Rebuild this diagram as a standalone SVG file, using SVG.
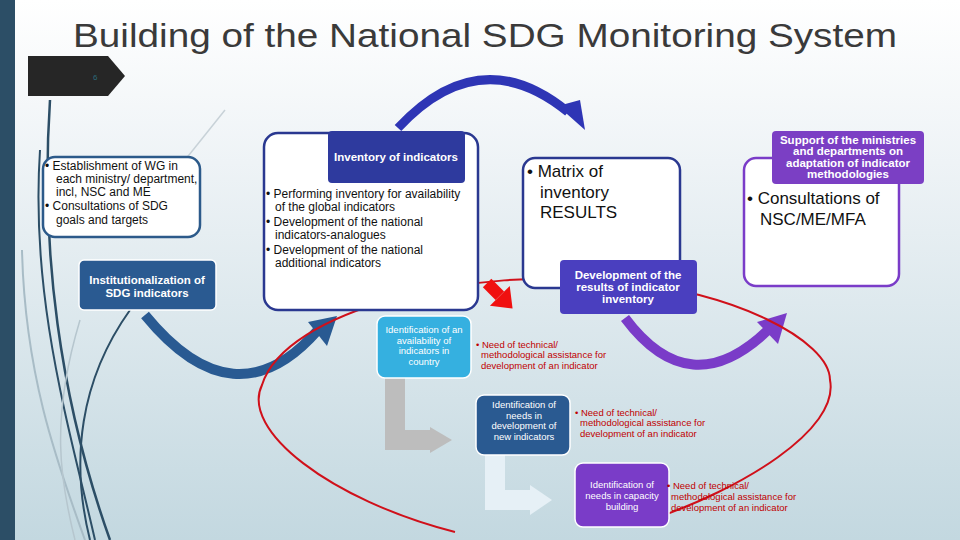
<svg xmlns="http://www.w3.org/2000/svg" width="960" height="540" viewBox="0 0 960 540">
<defs>
<linearGradient id="bg" x1="0" y1="0" x2="0" y2="1"><stop offset="0" stop-color="#ffffff"/><stop offset="0.3" stop-color="#eef3f6"/><stop offset="1" stop-color="#c3d8e0"/></linearGradient>
<style>
.t{font-family:"Liberation Sans",Arial,sans-serif}
.box{fill:#fff;stroke-width:2.5}
.wb{fill:#fff;font-weight:bold;font-size:11.5px;text-anchor:middle}
.ws{fill:#fff;font-size:9.5px;text-anchor:middle}
.bk{fill:#111;font-size:12px}
.rd{fill:#c00000;font-size:9.5px}
</style>
</defs>
<rect width="960" height="540" fill="url(#bg)"/>
<rect x="0" y="0" width="15" height="540" fill="#2c4e66"/>
<g fill="none" stroke-width="2.5">
<path d="M50 100 C40 250 60 400 110 540" stroke="#2c4e66"/>
<path d="M40 150 C30 300 70 430 95 540" stroke="#2c4e66" stroke-width="2"/>
<path d="M130 310 C80 380 70 460 90 540" stroke="#2c4e66" stroke-width="2"/>
<path d="M22 250 C25 380 60 470 85 540" stroke="#a8bcc6" stroke-width="2"/>
<path d="M80 320 C50 420 60 480 75 540" stroke="#b6c6ce" stroke-width="1.5"/>
<path d="M225 110 L185 160" stroke="#c8d2d8" stroke-width="1.5"/>
</g>
<text class="t" x="73" y="47" font-size="34" fill="#3a3a3a" textLength="824" lengthAdjust="spacingAndGlyphs">Building of the National SDG Monitoring System</text>
<polygon points="28,56 108,56 125,76 108,96 28,96" fill="#262626"/>
<text class="t" x="93" y="80" font-size="8" fill="#2c6a7a">6</text>

<g id="connectors" fill="none">
<path d="M398 128 Q480 40 568 112" stroke="#2e35b5" stroke-width="9"/>
<polygon points="558,106 585,130 580,100" fill="#2e35b5"/>
<path d="M145 315 Q235 425 318 330" stroke="#295a92" stroke-width="10"/>
<polygon points="308,322 337,316 327,346" fill="#295a92"/>
<path d="M625 318 Q690 405 768 330" stroke="#7a3cc8" stroke-width="10"/>
<polygon points="757,322 787,313 778,344" fill="#7a3cc8"/>
<path d="M455 532 C330 500 240 430 262 385 C285 310 470 265 620 282 C730 290 830 340 830 380 C840 430 740 490 650 520" stroke="#d0101a" stroke-width="2"/>
<path d="M395 378 V440 H430" stroke="#bdbdbd" stroke-width="20" stroke-linejoin="miter"/>
<polygon points="430,427 452,440 430,453" fill="#bdbdbd"/>
<path d="M495 455 V500 H530" stroke="#e6f0f6" stroke-width="20"/>
<polygon points="530,485 552,500 530,515" fill="#e6f0f6"/>
<g transform="translate(497,293) rotate(45)"><rect x="-14" y="-6" width="18" height="12" fill="#f01010"/><polygon points="4,-14 22,0 4,14" fill="#f01010"/></g>
</g>

<g id="n1"><rect class="box" x="43" y="157" width="157" height="80" rx="12" stroke="#2c5a8a"/>
<text class="t bk" font-size="11"><tspan x="45" y="170">• Establishment of WG in</tspan><tspan x="56" y="183">each ministry/ department,</tspan><tspan x="56" y="196">incl, NSC and ME</tspan><tspan x="45" y="210">• Consultations of SDG</tspan><tspan x="56" y="224">goals and targets</tspan></text></g>
<g id="n1h"><rect x="79" y="260" width="137" height="50" rx="5" fill="#2a5a91" stroke="#fff" stroke-width="1.5"/>
<text class="t wb"><tspan x="147" y="284">Institutionalization of</tspan><tspan x="147" y="297">SDG indicators</tspan></text></g>

<g id="n2"><rect class="box" x="264" y="133" width="214" height="177" rx="14" stroke="#2a3890"/>
<text class="t bk" font-size="11.5"><tspan x="266" y="198">• Performing inventory  for availability</tspan><tspan x="275" y="211">of the global indicators</tspan><tspan x="266" y="226">• Development of the national</tspan><tspan x="275" y="239">indicators-analogues</tspan><tspan x="266" y="254">• Development of the national</tspan><tspan x="275" y="267">additional indicators</tspan></text></g>
<g id="n2h"><rect x="328" y="131" width="137" height="52" rx="4" fill="#2e3a9e"/>
<text class="t wb" x="396" y="161">Inventory of indicators</text></g>

<g id="n3"><rect class="box" x="523" y="158" width="157" height="130" rx="12" stroke="#2a3890"/>
<text class="t" font-size="17" fill="#111"><tspan x="527" y="177">• Matrix of</tspan><tspan x="540" y="198">inventory</tspan><tspan x="540" y="218">RESULTS</tspan></text></g>
<g id="n3h"><rect x="560" y="260" width="137" height="54" rx="4" fill="#4a3fbf"/>
<text class="t wb" font-size="10.5"><tspan x="628" y="279">Development of the</tspan><tspan x="628" y="291">results of indicator</tspan><tspan x="628" y="303">inventory</tspan></text></g>

<g id="n4"><rect class="box" x="744" y="158" width="155" height="128" rx="12" stroke="#7a3cc8"/>
<text class="t" font-size="17" fill="#111"><tspan x="747" y="204">• Consultations of</tspan><tspan x="760" y="225">NSC/ME/MFA</tspan></text></g>
<g id="n4h"><rect x="772" y="131" width="152" height="53" rx="4" fill="#7b3fc4"/>
<text class="t wb" font-size="10.5"><tspan x="848" y="144">Support of the ministries</tspan><tspan x="848" y="155">and departments on</tspan><tspan x="848" y="167">adaptation of indicator</tspan><tspan x="848" y="178">methodologies</tspan></text></g>

<g id="i1"><rect x="377" y="316" width="94" height="62" rx="8" fill="#35b0e0" stroke="#fff" stroke-width="1.5"/>
<text class="t ws"><tspan x="424" y="333">Identification of an</tspan><tspan x="424" y="344">availability of</tspan><tspan x="424" y="354">indicators in</tspan><tspan x="424" y="365">country</tspan></text>
<text class="t rd"><tspan x="476" y="348">• Need of technical/</tspan><tspan x="481" y="358">methodological assistance for</tspan><tspan x="481" y="369">development of an indicator</tspan></text></g>
<g id="i2"><rect x="476" y="395" width="94" height="60" rx="8" fill="#2a5a91" stroke="#fff" stroke-width="1.5"/>
<text class="t ws"><tspan x="524" y="408">Identification of</tspan><tspan x="524" y="419">needs in</tspan><tspan x="524" y="429">development of</tspan><tspan x="524" y="440">new indicators</tspan></text>
<text class="t rd"><tspan x="575" y="416">• Need of technical/</tspan><tspan x="580" y="426">methodological assistance for</tspan><tspan x="580" y="437">development of an indicator</tspan></text></g>
<g id="i3"><rect x="575" y="463" width="94" height="64" rx="8" fill="#7a3cc8" stroke="#fff" stroke-width="1.5"/>
<text class="t ws"><tspan x="622" y="488">Identification of</tspan><tspan x="622" y="499">needs in capacity</tspan><tspan x="622" y="510">building</tspan></text>
<text class="t rd"><tspan x="667" y="489">• Need of technical/</tspan><tspan x="671" y="500">methodological assistance for</tspan><tspan x="671" y="511">development of an indicator</tspan></text></g>
</svg>
